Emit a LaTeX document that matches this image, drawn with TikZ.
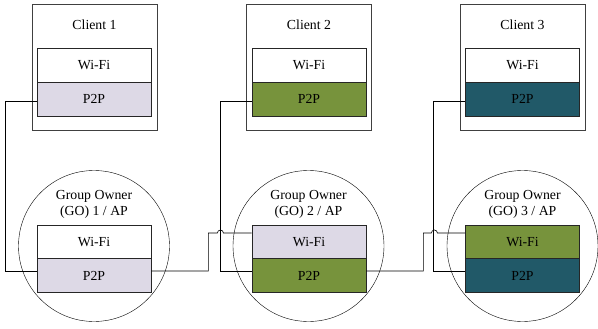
\documentclass[tikz,border=0pt]{standalone}
\usepackage{fontspec}
\setmainfont{Liberation Serif}
\usepackage{tikz}
\usetikzlibrary{positioning,calc}

\definecolor{lavender}{HTML}{DDD9E6}
\definecolor{olive}{HTML}{77933C}
\definecolor{teal}{HTML}{215968}

\begin{document}
\begin{tikzpicture}[
    x=1pt, y=-1pt,
    every node/.style={font=\fontsize{13.8}{16}\selectfont},
    client/.style={draw=black!75, thick, minimum width=125pt, minimum height=126pt},
    layer/.style={draw=black!85, thick, minimum width=114pt, minimum height=34pt, inner sep=0pt},
    owner/.style={draw, circle, minimum size=151pt, inner sep=0pt},
    wire/.style={semithick}
]
\useasboundingbox (0,0) rectangle (598,329);

% Clients
\node[client] (c1) at (94.5, 67) {};
\node[client] (c2) at (309, 67) {};
\node[client] (c3) at (522.5, 67) {};
\node at (94.5, 25) {Client 1};
\node at (309, 25) {Client 2};
\node at (522.5, 25) {Client 3};

\node[layer] (c1wifi) at (94, 65) {Wi-Fi};
\node[layer, fill=lavender] (c1p2p) at (94, 99) {P2P};
\node[layer] (c2wifi) at (309, 65) {Wi-Fi};
\node[layer, fill=olive] (c2p2p) at (309, 99) {P2P};
\node[layer] (c3wifi) at (522.5, 65) {Wi-Fi};
\node[layer, fill=teal] (c3p2p) at (522.5, 99) {P2P};

% Group owners
\node[owner] (go1) at (94, 246) {};
\node[owner] (go2) at (308.5, 246) {};
\node[owner] (go3) at (522.5, 246) {};
\node[align=center] at (94, 204) {Group Owner\\(GO) 1 / AP};
\node[align=center] at (308.5, 204) {Group Owner\\(GO) 2 / AP};
\node[align=center] at (522.5, 204) {Group Owner\\(GO) 3 / AP};

\node[layer] (go1wifi) at (94, 242) {Wi-Fi};
\node[layer, fill=lavender] (go1p2p) at (94, 275.5) {P2P};
\node[layer, fill=lavender] (go2wifi) at (309, 242) {Wi-Fi};
\node[layer, fill=olive] (go2p2p) at (309, 275.5) {P2P};
\node[layer, fill=olive] (go3wifi) at (522.5, 242) {Wi-Fi};
\node[layer, fill=teal] (go3p2p) at (522.5, 275.5) {P2P};

% Client to GO links
\draw[wire] ([yshift=-2pt]c1p2p.west) -- ++(-31.5,0) |- ([yshift=4.5pt]go1p2p.west);
\draw[wire] ([yshift=-2pt]c2p2p.west) -- ++(-31.5,0) |- ([yshift=4.5pt]go2p2p.west);
\draw[wire] ([yshift=-2pt]c3p2p.west) -- ++(-31.5,0) |- ([yshift=4.5pt]go3p2p.west);

% GO to GO links (hop over crossing)
\draw[wire] ([yshift=4.5pt]go1p2p.east) -- ++(57,0) -- ++(0,-38) -- ++(9,0)
    arc[start angle=180, end angle=0, radius=3pt] -- ([yshift=9pt]go2wifi.west);
\draw[wire] ([yshift=4.5pt]go2p2p.east) -- ++(57,0) -- ++(0,-38) -- ++(8,0)
    arc[start angle=180, end angle=0, radius=3pt] -- ([yshift=9pt]go3wifi.west);

\end{tikzpicture}
\end{document}
